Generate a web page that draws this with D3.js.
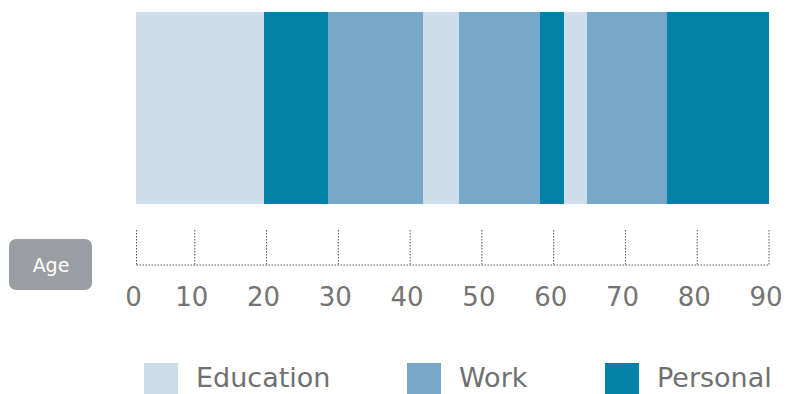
<!DOCTYPE html>
<html>
<head>
<meta charset="utf-8">
<script src="https://cdn.jsdelivr.net/npm/d3@7"></script>
<style>
  html, body { margin: 0; padding: 0; background: #ffffff; }
  svg { display: block; font-family: "DejaVu Sans", Verdana, sans-serif; }
</style>
</head>
<body>
<svg id="chart" width="786" height="394"></svg>
<script>
// ---- data ----
const categories = ["Education", "Work", "Personal"];
const segmentCategory = ["Education", "Personal", "Work", "Education", "Work", "Personal", "Education", "Work", "Personal"];
const segmentStart = [0, 19.75, 28.6, 41.9, 46.9, 58.1, 61.5, 64.7, 75.8];
const segmentEnd   = [19.75, 28.6, 41.9, 46.9, 58.1, 61.5, 64.7, 75.8, 90];
const tickValues = [0, 10, 20, 30, 40, 50, 60, 70, 80, 90];
const axisTitle = "Age";

// ---- styles ----
const colors = { "Education": "#cddeea", "Work": "#78a8c7", "Personal": "#0282a8" };

const svg = d3.select("#chart");

const x = d3.scaleLinear().domain([0, 10, 90]).range([136, 194.3, 768.5]);
const color = d3.scaleOrdinal().domain(categories).range(categories.map(c => colors[c]));

const segments = segmentStart.map((s, i) => ({ start: s, end: segmentEnd[i], cat: segmentCategory[i] }));

// bar
svg.append("g").selectAll("rect")
  .data(segments)
  .join("rect")
  .attr("x", d => x(d.start))
  .attr("y", 12)
  .attr("width", d => x(d.end) - x(d.start))
  .attr("height", 192)
  .attr("fill", d => color(d.cat))
  .attr("shape-rendering", "crispEdges");

// axis
const axis = d3.axisBottom(x)
  .tickValues(tickValues)
  .tickFormat(d3.format("d"))
  .tickSize(-36)
  .tickSizeOuter(0)
  .tickPadding(23);

const gAxis = svg.append("g")
  .attr("transform", "translate(0,264.5)")
  .call(axis);

gAxis.select(".domain")
  .attr("stroke", "#555555")
  .attr("stroke-width", 1)
  .attr("stroke-dasharray", "1.5,1.5");
gAxis.selectAll(".tick line")
  .attr("stroke", "#555555")
  .attr("stroke-width", 1)
  .attr("stroke-dasharray", "1.5,1.5");
gAxis.selectAll(".tick text")
  .attr("fill", "#747474")
  .attr("font-size", 26)
  .attr("dx", -3)
  .attr("font-family", "DejaVu Sans, Verdana, sans-serif");

// axis title box
const ageG = svg.append("g");
ageG.append("rect")
  .attr("x", 9).attr("y", 239)
  .attr("width", 83).attr("height", 51)
  .attr("rx", 7).attr("ry", 7)
  .attr("fill", "#9a9ea3");
ageG.append("text")
  .attr("x", 51).attr("y", 272)
  .attr("text-anchor", "middle")
  .attr("fill", "#ffffff")
  .attr("font-size", 19)
  .text(axisTitle);

// legend
const legendX = [144, 407, 605];
const legend = svg.append("g").selectAll("g")
  .data(categories)
  .join("g")
  .attr("transform", (d, i) => `translate(${legendX[i]},363)`);
legend.append("rect")
  .attr("width", 34).attr("height", 34)
  .attr("fill", d => color(d));
legend.append("text")
  .attr("x", 52).attr("y", 24)
  .attr("fill", "#707070")
  .attr("font-size", 27)
  .text(d => d);
</script>
</body>
</html>
